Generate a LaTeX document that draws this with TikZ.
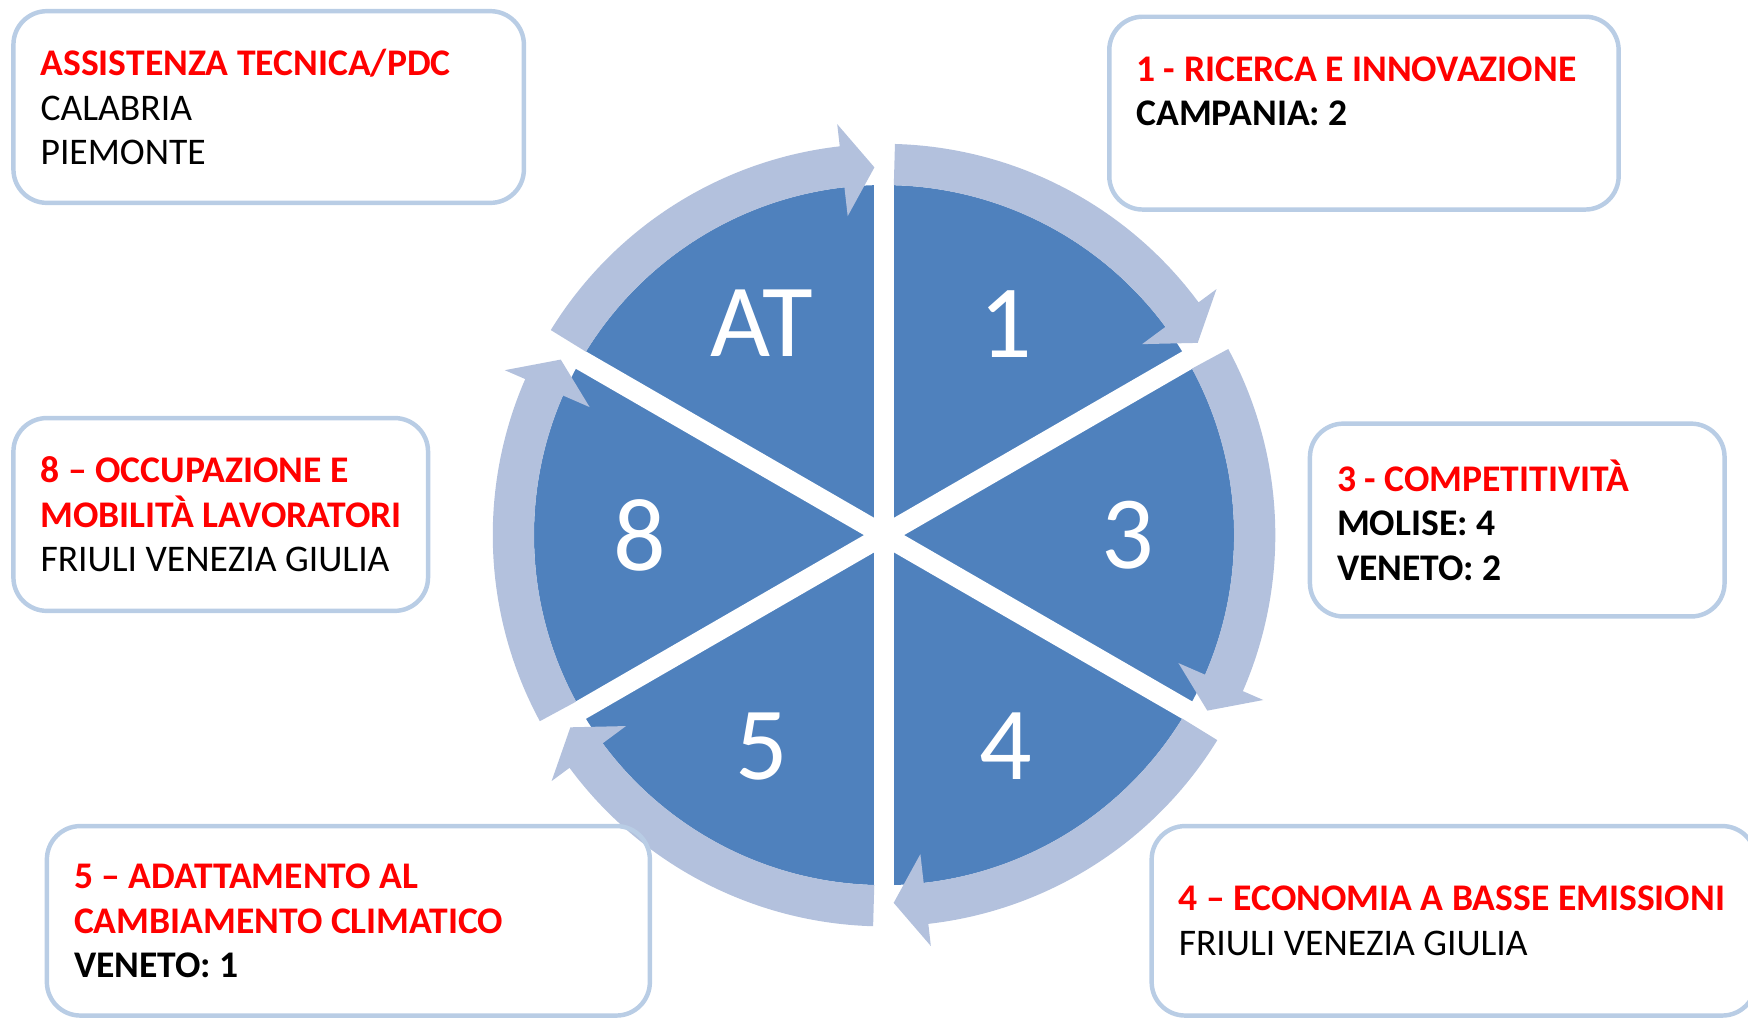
\documentclass[tikz,border=0pt]{standalone}
\usepackage{fontspec}
\setmainfont{Carlito}
\usetikzlibrary{positioning}
\definecolor{pieblue}{RGB}{79,129,189}
\definecolor{ringblue}{RGB}{179,193,221}
\definecolor{boxline}{RGB}{185,205,229}
\definecolor{titlered}{RGB}{255,0,0}
\newcommand{\heading}[1]{{\bfseries\color{titlered}#1}}

\begin{document}
\begin{tikzpicture}[x=0.02cm,y=0.02cm,
        box/.style={rectangle,draw=boxline,line width=0.08cm,rounded corners=0.6cm},
        box text/.style={align=left,inner sep=0pt,font=\fontsize{19.2}{22.8}\selectfont},
        sector/.style={text=white,inner sep=0pt,font=\fontsize{53}{60}\selectfont}]

    \useasboundingbox (0,0) rectangle (1568,913);

    % the wheel
    \begin{scope}[shift={(793,433)}]
        \fill[pieblue] (0,0) circle[radius=314];
        \foreach \g in {90,30,150}
            \draw[white,line width=0.36cm] (\g:322) -- (\g+180:322);
        \foreach \g in {90,30,-30,-90,-150,-210}
            \fill[ringblue] (\g-1.6:351) arc[start angle=\g-1.6,end angle=\g-53.5,radius=351]
                -- (\g-53.5:371) -- (\g-58.5:330) -- (\g-53.5:288) -- (\g-53.5:314)
                arc[start angle=\g-53.5,end angle=\g-1.6,radius=314] -- cycle;

        \node[sector] (sAT) at (120:219) {AT};
        \node[sector] (s1) at (60:219) {1};
        \node[sector] (s3) at (0:219) {3};
        \node[sector] (s4) at (-60:219) {4};
        \node[sector] (s5) at (-120:219) {5};
        \node[sector] (s8) at (180:219) {8};
    \end{scope}

    % boxes
    \node[box,minimum width=9.16cm,minimum height=3.44cm] (bAT) at (241,817) {};
    \node[box,minimum width=9.14cm,minimum height=3.46cm] (b1) at (1223.5,811.5) {};
    \node[box,minimum width=7.44cm,minimum height=3.46cm] (b3) at (1361,446.5) {};
    \node[box,minimum width=7.44cm,minimum height=3.46cm] (b8) at (198,451.5) {};
    \node[box,minimum width=10.82cm,minimum height=3.4cm] (b5) at (312.5,87) {};
    \node[box,minimum width=10.84cm,minimum height=3.4cm] (b4) at (1304,87) {};

    \node[box text,right=0.52cm of bAT.west] (tAT)
        {\heading{ASSISTENZA TECNICA/PDC}\\CALABRIA\\PIEMONTE};
    \node[box text,right=0.52cm of b1.west,yshift=0.39cm] (t1)
        {\heading{1 - RICERCA E INNOVAZIONE}\\\textbf{CAMPANIA: 2}};
    \node[box text,right=0.52cm of b3.west] (t3)
        {\heading{3 - COMPETITIVITÀ}\\\textbf{MOLISE: 4}\\\textbf{VENETO: 2}};
    \node[box text,right=0.52cm of b8.west] (t8)
        {\heading{8 – OCCUPAZIONE E}\\\heading{MOBILITÀ LAVORATORI}\\FRIULI VENEZIA GIULIA};
    \node[box text,right=0.52cm of b5.west] (t5)
        {\heading{5 – ADATTAMENTO AL}\\\heading{CAMBIAMENTO CLIMATICO}\\\textbf{VENETO: 1}};
    \node[box text,right=0.52cm of b4.west] (t4)
        {\heading{4 – ECONOMIA A BASSE EMISSIONI}\\FRIULI VENEZIA GIULIA};

\end{tikzpicture}
\end{document}
